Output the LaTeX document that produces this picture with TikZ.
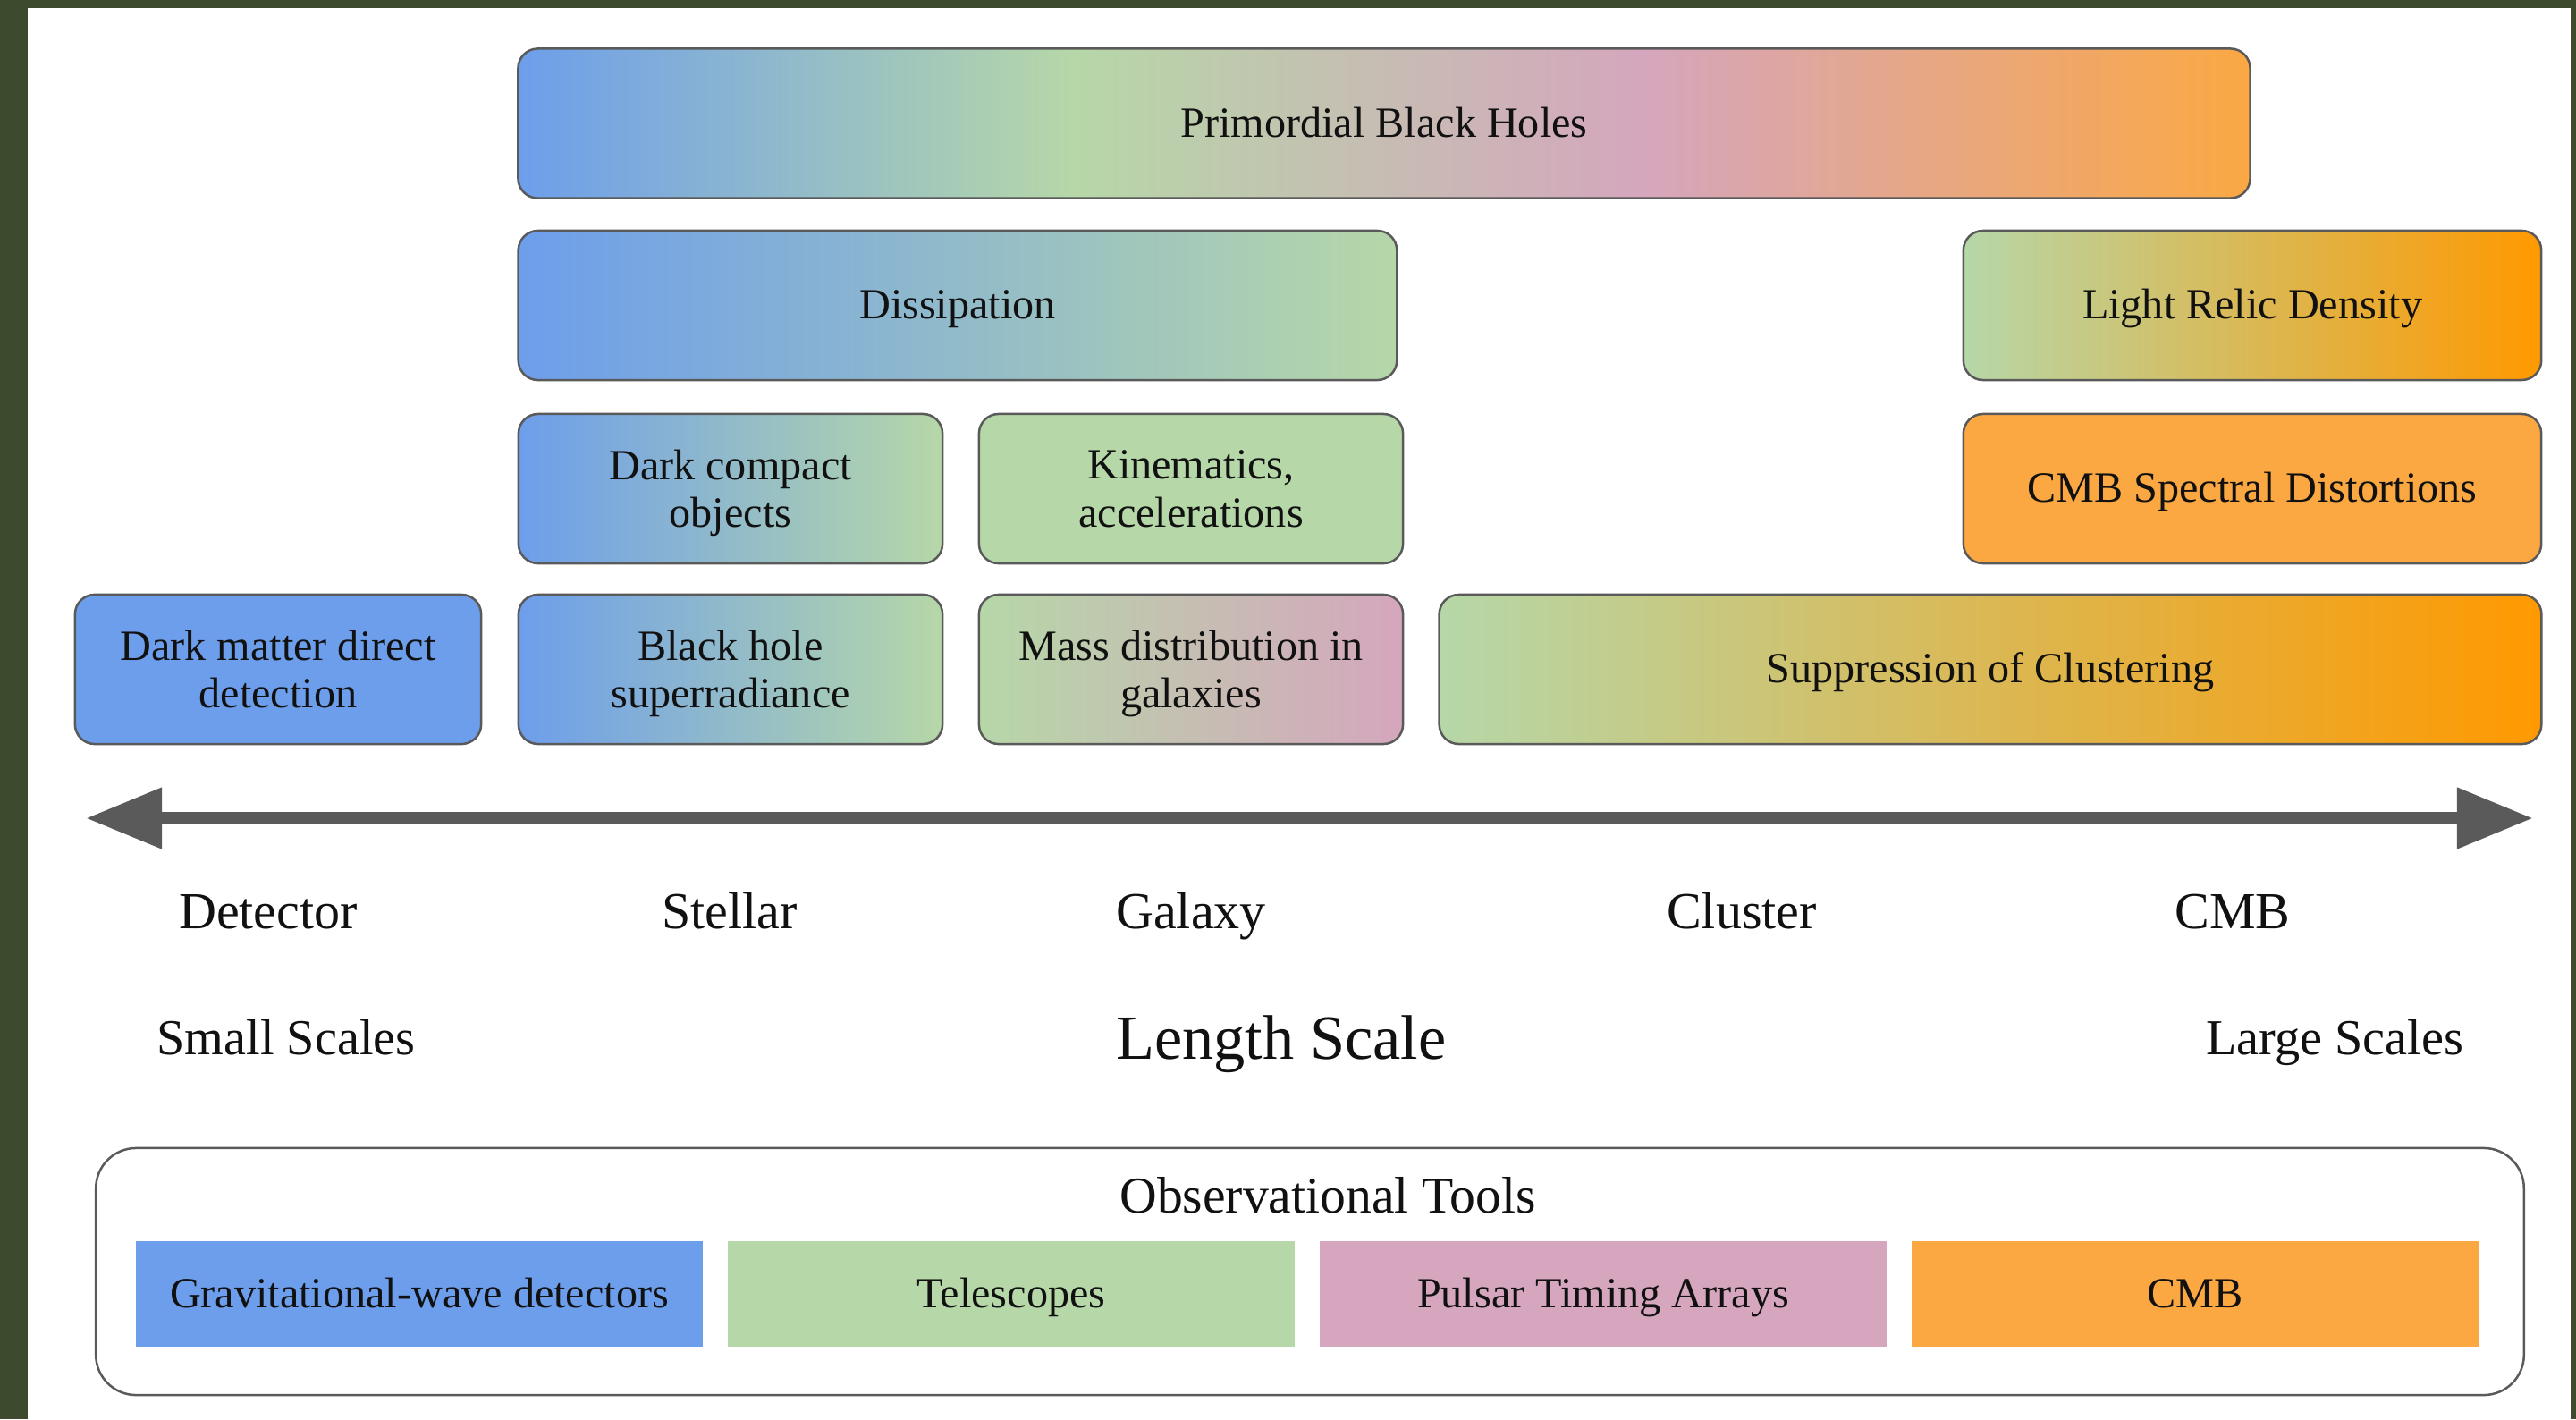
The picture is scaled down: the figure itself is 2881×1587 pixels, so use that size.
\documentclass[tikz,border=0pt]{standalone}
\usepackage{fontspec}
\setmainfont{Liberation Serif}
\usetikzlibrary{arrows.meta}
\definecolor{cblue}{HTML}{6D9EEB}
\definecolor{cgreen}{HTML}{B6D7A8}
\definecolor{cpink}{HTML}{D5A6BD}
\definecolor{corange}{HTML}{FBA843}
\definecolor{cdeep}{HTML}{FF9900}
\definecolor{cframe}{HTML}{3E4A2E}
\definecolor{cline}{HTML}{5A5A5A}
\definecolor{ctext}{HTML}{111111}
\pgfdeclarehorizontalshading{pbhshade}{100bp}{color(0bp)=(cblue); color(25bp)=(cblue); color(41bp)=(cgreen); color(57.5bp)=(cpink); color(75bp)=(corange); color(100bp)=(corange)}
\begin{document}
\begin{tikzpicture}[x=0.01cm,y=-0.01cm,
  box/.style={draw=cline, line width=0.25mm, rounded corners=2.2mm, inner sep=0pt,
    align=center, text=ctext, font=\fontsize{13.7}{15.2}\selectfont, minimum height=1.67cm,
    text depth=0pt},
  onebox/.style={box, text height=0.88em, text depth=0em},
  toolbox/.style={inner sep=0pt, text=ctext, font=\fontsize{13.7}{15.2}\selectfont,
    minimum height=1.18cm, minimum width=6.34cm, text height=0.88em, text depth=0em},
  scalelabel/.style={anchor=base, text=ctext, font=\fontsize{16.5}{18}\selectfont},
  arrowline/.style={draw=cline, line width=1.4mm,
    {Triangle[length=8.5mm,width=6.5mm]}-{Triangle[length=8.5mm,width=6.5mm]}}
]
\useasboundingbox (0,0) rectangle (2881,1587);
\fill[cframe] (0,0) rectangle (2881,1587);
\fill[white] (31,9) rectangle (2875,1587);

% row 1
\node[onebox, shade, shading=pbhshade, minimum width=19.36cm] (pbh) at (1548,138) {Primordial Black Holes};
% row 2
\node[onebox, left color=cblue, right color=cgreen, minimum width=9.82cm] (diss) at (1071,341.5) {Dissipation};
\node[onebox, left color=cgreen, right color=cdeep, minimum width=6.46cm] (lrd) at (2519,341.5) {Light Relic Density};
% row 3
\node[box, left color=cblue, right color=cgreen, minimum width=4.74cm] (dco) at (817,546.5) {Dark compact\\objects};
\node[box, fill=cgreen, minimum width=4.74cm] (kin) at (1332,546.5) {Kinematics,\\accelerations};
\node[onebox, fill=corange, minimum width=6.46cm] (cmbsd) at (2519,546.5) {CMB Spectral Distortions};
% row 4
\node[box, fill=cblue, minimum width=4.54cm] (dmdd) at (311,748.5) {Dark matter direct\\detection};
\node[box, left color=cblue, right color=cgreen, minimum width=4.74cm] (bhs) at (817,748.5) {Black hole\\superradiance};
\node[box, left color=cgreen, right color=cpink, minimum width=4.74cm] (mdg) at (1332,748.5) {Mass distribution in\\galaxies};
\node[onebox, left color=cgreen, right color=cdeep, minimum width=12.32cm] (soc) at (2226,748.5) {Suppression of Clustering};

% length-scale arrow
\coordinate (al) at (96,915);
\coordinate (ar) at (2833,915);
\draw[arrowline] (al) -- (ar);

% scale labels
\node[scalelabel] (ldet) at (300,1038) {Detector};
\node[scalelabel] (lste) at (816,1038) {Stellar};
\node[scalelabel] (lgal) at (1332,1038) {Galaxy};
\node[scalelabel] (lclu) at (1948,1038) {Cluster};
\node[scalelabel] (lcmb) at (2497,1038) {CMB};

\node[scalelabel, font=\fontsize{16}{18}\selectfont] (small) at (320,1179) {Small Scales};
\node[scalelabel, font=\fontsize{20}{22}\selectfont] (length) at (1433,1184) {Length Scale};
\node[scalelabel, font=\fontsize{16}{18}\selectfont] (large) at (2611,1179) {Large Scales};

% observational tools
\node[draw=cline, line width=0.25mm, rounded corners=4.5mm, minimum width=27.14cm, minimum height=2.76cm, inner sep=0pt] (obs) at (1465,1422) {};
\node[scalelabel, font=\fontsize{16.4}{18}\selectfont] (obstitle) at (1485,1356) {Observational Tools};
\node[toolbox, fill=cblue] (gw) at (469,1447) {Gravitational-wave detectors};
\node[toolbox, fill=cgreen] (tel) at (1131,1447) {Telescopes};
\node[toolbox, fill=cpink] (pta) at (1793,1447) {Pulsar Timing Arrays};
\node[toolbox, fill=corange] (cmbt) at (2455,1447) {CMB};
\end{tikzpicture}
\end{document}
